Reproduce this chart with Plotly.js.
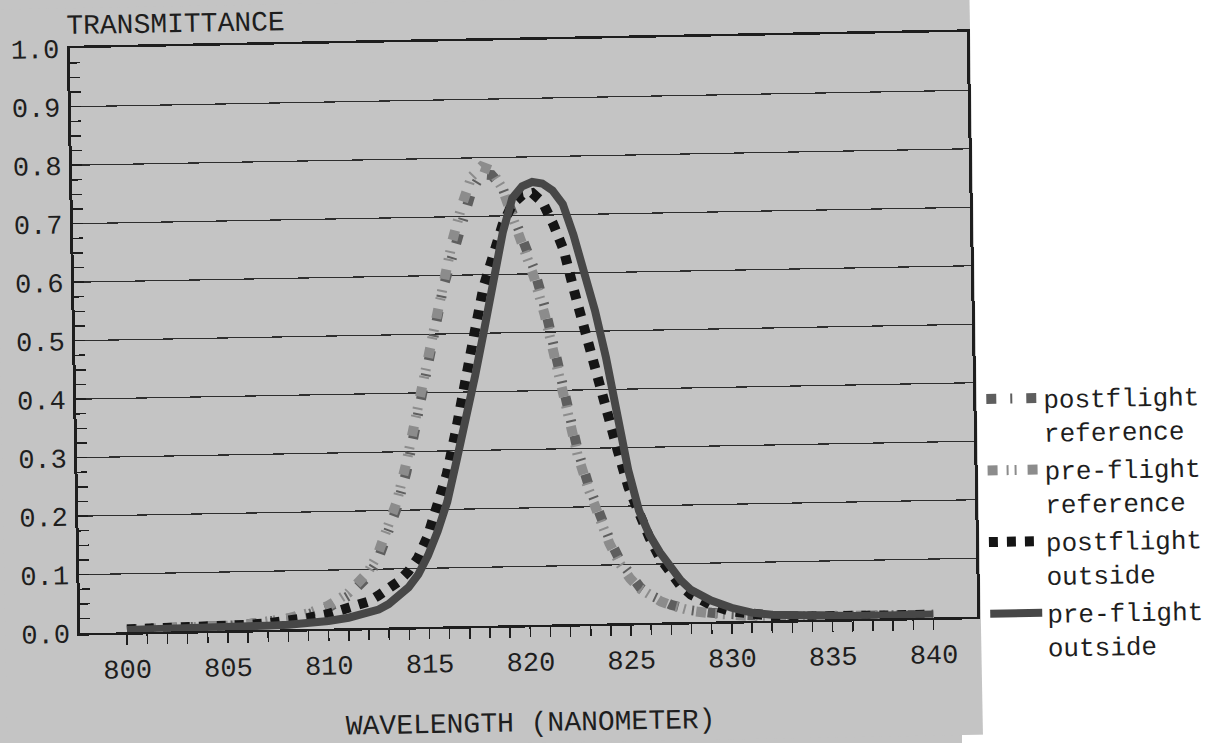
<!DOCTYPE html>
<html><head><meta charset="utf-8">
<script src="https://cdn.plot.ly/plotly-3.0.1.min.js"></script>
<style>
html,body{margin:0;padding:0;width:1223px;height:743px;overflow:hidden;
background:linear-gradient(to right,#c4c4c4 0,#c4c4c4 962px,#ffffff 962px);}
#chart{width:1223px;height:743px;transform:rotate(-1.05deg);transform-origin:523px 332px;}
</style></head><body><div id="chart"></div>
<script>
const wavelength = [800,801,802,803,804,805,806,807,808,809,810,811,
  812,812.5,813,813.5,814,814.5,815,815.5,816,816.5,817,817.5,818,818.5,819,819.5,820,820.5,821,821.5,822,822.5,823,823.5,824,824.5,825,825.5,826,826.5,827,827.5,828,
  829,830,831,832,833,834,835,836,837,838,839,840];

const postflightReference = [0.005,0.005,0.006,0.006,0.007,0.008,0.010,0.013,0.018,0.025,0.036,0.055,
  0.088,0.115,0.155,0.205,0.265,0.340,0.410,0.500,0.580,0.640,0.690,0.745,0.772,0.770,0.750,0.705,0.655,0.610,0.545,0.460,0.380,0.300,0.240,0.190,0.145,0.108,0.080,0.060,0.047,0.038,0.030,0.025,0.020,
  0.015,0.011,0.009,0.007,0.006,0.005,0.005,0.005,0.005,0.005,0.005,0.005];

const preflightReference = [0.005,0.005,0.006,0.006,0.007,0.008,0.010,0.013,0.019,0.027,0.039,0.060,
  0.095,0.125,0.165,0.215,0.280,0.355,0.430,0.515,0.595,0.660,0.720,0.768,0.785,0.778,0.748,0.700,0.645,0.595,0.530,0.445,0.370,0.290,0.232,0.180,0.137,0.102,0.076,0.058,0.045,0.036,0.029,0.024,0.019,
  0.014,0.010,0.008,0.007,0.006,0.005,0.005,0.005,0.005,0.005,0.005,0.005];

const postflightOutside = [0.005,0.005,0.006,0.006,0.007,0.008,0.009,0.011,0.014,0.019,0.025,0.033,
  0.045,0.055,0.066,0.078,0.095,0.118,0.155,0.205,0.260,0.335,0.410,0.500,0.580,0.640,0.685,0.720,0.735,0.738,0.722,0.685,0.640,0.567,0.495,0.430,0.360,0.295,0.232,0.185,0.145,0.110,0.083,0.062,0.047,
  0.028,0.017,0.011,0.008,0.006,0.005,0.005,0.005,0.005,0.005,0.005,0.005];

const preflightOutside = [0.004,0.004,0.004,0.005,0.005,0.005,0.006,0.007,0.008,0.010,0.013,0.018,
  0.025,0.031,0.040,0.052,0.068,0.090,0.122,0.163,0.213,0.283,0.352,0.428,0.508,0.593,0.672,0.730,0.750,0.757,0.754,0.742,0.718,0.665,0.600,0.535,0.455,0.350,0.262,0.192,0.150,0.120,0.094,0.072,0.055,
  0.036,0.023,0.014,0.010,0.008,0.006,0.006,0.005,0.005,0.005,0.005,0.005];

const seriesNames = ['postflight<br>reference','pre-flight<br>reference','postflight<br>outside','pre-flight<br>outside'];
const xTickLabels = [800,805,810,815,820,825,830,835,840];
const xMinorTicks = [];
for (let w = 800; w <= 840; w++) xMinorTicks.push(w);
const yTickVals = [0,0.1,0.2,0.3,0.4,0.5,0.6,0.7,0.8,0.9,1.0];
const yTickLabels = ['0.0','0.1','0.2','0.3','0.4','0.5','0.6','0.7','0.8','0.9','1.0'];

const traces = [
  {x: wavelength, y: postflightReference, name: seriesNames[0], legendgroup: 'a', mode: 'lines', cliponaxis: false,
   line: {color: '#5e5e5e', width: 10, dash: '10px,14px,2px,14px'}},
  {x: wavelength, y: preflightReference, name: seriesNames[1], legendgroup: 'b', mode: 'lines', cliponaxis: false,
   line: {color: '#8c8c8c', width: 10, dash: '10px,9px,2px,6px,2px,11px'}},
  {x: wavelength, y: postflightOutside, name: seriesNames[2], legendgroup: 'c', mode: 'lines', cliponaxis: false,
   line: {color: '#151515', width: 10, dash: '9px,9px'}},
  {x: wavelength, y: preflightOutside, name: seriesNames[3], legendgroup: 'd', mode: 'lines', cliponaxis: false,
   line: {color: '#474747', width: 8}}
];

const ink = '#1e1e1e';
const layout = {
  width: 1223, height: 743,
  margin: {l: 75, r: 251, t: 40, b: 118},
  paper_bgcolor: 'rgba(0,0,0,0)', plot_bgcolor: 'rgba(0,0,0,0)',
  font: {family: 'Liberation Mono, DejaVu Sans Mono, monospace', color: ink, size: 27},
  title: {text: 'TRANSMITTANCE', font: {size: 28, color: ink}, x: 72/1223, xanchor: 'left', xref: 'container',
          y: 1 - 16/743, yanchor: 'middle', yref: 'container'},
  showlegend: true,
  legend: {x: 1.0089, xanchor: 'left', y: 0.412, yanchor: 'top', itemwidth: 52, valign: 'top',
           tracegroupgap: 1,
           font: {size: 26, color: ink}, bgcolor: 'rgba(0,0,0,0)', borderwidth: 0},
  xaxis: {range: [797.69, 842.18], tickmode: 'array', tickvals: xTickLabels,
          ticks: 'outside', ticklen: 10, tickwidth: 1.5, tickcolor: ink,
          showline: true, linecolor: ink, linewidth: 2.5, mirror: true,
          showgrid: false, zeroline: false, tickfont: {size: 27, color: ink}, ticklabelstandoff: 1,
          minor: {tickmode: 'array', tickvals: xMinorTicks, ticks: 'outside', ticklen: 10, tickwidth: 1.5, tickcolor: ink, showgrid: false},
          title: {text: 'WAVELENGTH (NANOMETER)', font: {size: 28, color: ink}, standoff: 34}},
  yaxis: {range: [0, 1], tickmode: 'array', tickvals: yTickVals, ticktext: yTickLabels,
          ticks: 'inside', ticklen: 10, tickwidth: 1.5, tickcolor: ink,
          showline: true, linecolor: ink, linewidth: 3, mirror: true,
          showgrid: true, gridcolor: '#2e2e2e', gridwidth: 1.2, zeroline: false,
          tickfont: {size: 27, color: ink}, ticklabelstandoff: 2,
          minor: {tickmode: 'linear', tick0: 0, dtick: 0.025, ticks: 'inside', ticklen: 10, tickwidth: 1.5, tickcolor: ink, showgrid: false}},
  shapes: [{type: 'rect', xref: 'paper', yref: 'paper', x0: -0.12, x1: 1.0039, y0: -0.25, y1: 1.12,
            fillcolor: '#c4c4c4', line: {width: 0}, layer: 'below'}]
};

Plotly.newPlot('chart', traces, layout, {displayModeBar: false, staticPlot: true});
</script></body></html>
